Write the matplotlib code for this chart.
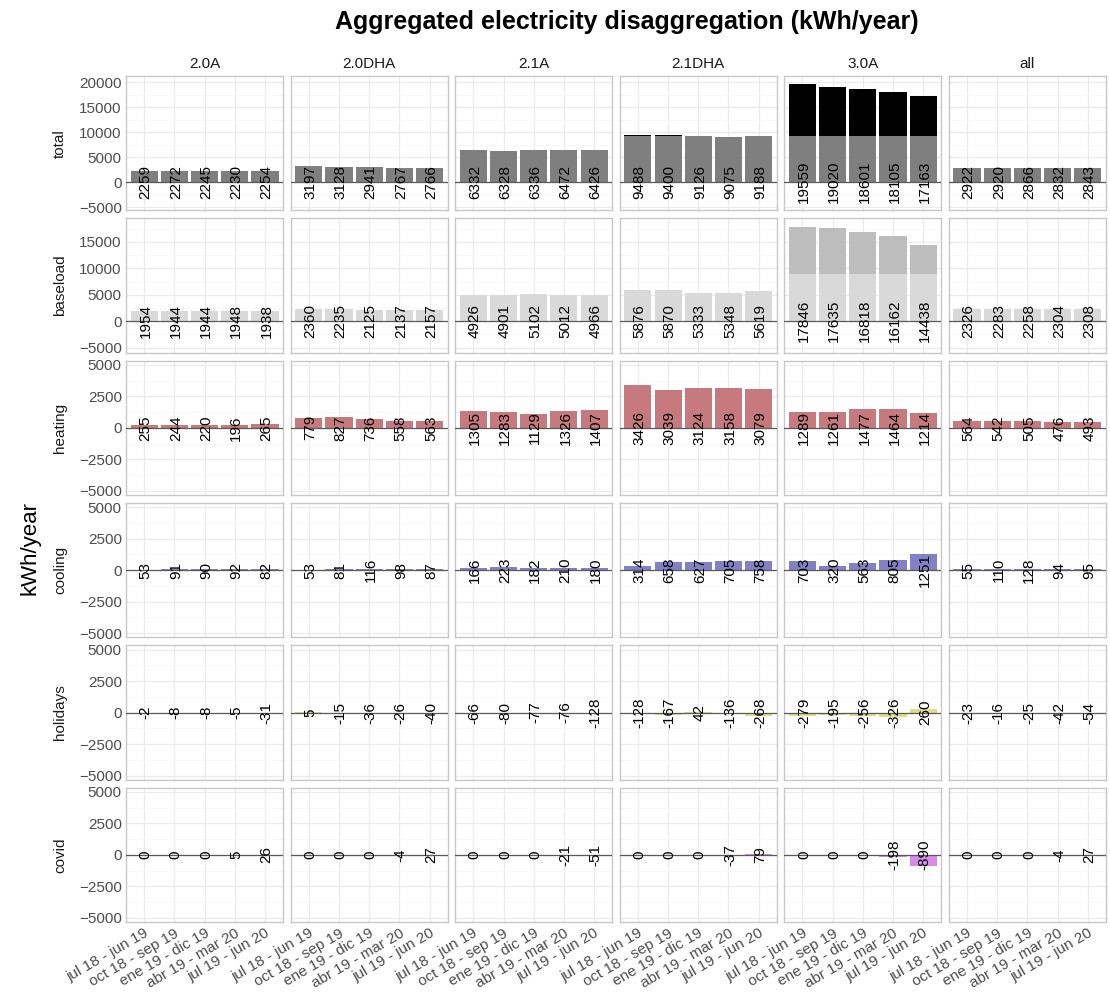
import matplotlib.pyplot as plt
from matplotlib.ticker import MultipleLocator
import numpy as np

plt.rcParams['font.family'] = ['Liberation Sans', 'DejaVu Sans']

tariffs = ['2.0A', '2.0DHA', '2.1A', '2.1DHA', '3.0A', 'all']
periods = ['jul 18 - jun 19', 'oct 18 - sep 19', 'ene 19 - dic 19',
           'abr 19 - mar 20', 'jul 19 - jun 20']
components = ['total', 'baseload', 'heating', 'cooling', 'holidays', 'covid']

# kWh/year per tariff (rows follow `tariffs`, columns follow `periods`)
total = [[2259, 2272, 2245, 2230, 2254],
         [3197, 3128, 2941, 2767, 2766],
         [6332, 6328, 6336, 6472, 6426],
         [9488, 9400, 9126, 9075, 9188],
         [19559, 19020, 18601, 18105, 17163],
         [2922, 2920, 2866, 2832, 2843]]
baseload = [[1954, 1944, 1944, 1948, 1938],
            [2360, 2235, 2125, 2137, 2157],
            [4926, 4901, 5102, 5012, 4966],
            [5876, 5870, 5333, 5348, 5619],
            [17846, 17635, 16818, 16162, 14438],
            [2326, 2283, 2258, 2304, 2308]]
heating = [[255, 244, 220, 196, 265],
           [779, 827, 736, 558, 563],
           [1305, 1283, 1129, 1326, 1407],
           [3426, 3039, 3124, 3158, 3079],
           [1289, 1261, 1477, 1464, 1214],
           [564, 542, 505, 476, 493]]
cooling = [[53, 91, 90, 92, 82],
           [53, 81, 116, 98, 87],
           [166, 223, 182, 210, 180],
           [314, 658, 627, 705, 758],
           [703, 320, 563, 805, 1251],
           [55, 110, 128, 94, 95]]
holidays = [[-2, -8, -8, -5, -31],
            [5, -15, -36, -26, -40],
            [-66, -80, -77, -76, -128],
            [-128, -167, 42, -136, -268],
            [-279, -195, -256, -326, 260],
            [-23, -16, -25, -42, -54]]
covid = [[0, 0, 0, 5, 26],
         [0, 0, 0, -4, 27],
         [0, 0, 0, -21, -51],
         [0, 0, 0, -37, 79],
         [0, 0, 0, -198, -890],
         [0, 0, 0, -4, 27]]

# consumption above these levels is drawn in a darker shade
total_cap = 9300
baseload_cap = 8850

data = {'total': total, 'baseload': baseload, 'heating': heating,
        'cooling': cooling, 'holidays': holidays, 'covid': covid}
caps = {'total': total_cap, 'baseload': baseload_cap}
fill = {'total': '#7f7f7f', 'baseload': '#d9d9d9', 'heating': '#c77a7e',
        'cooling': '#8380c6', 'holidays': '#dede82', 'covid': '#d88ae8'}
fill_over = {'total': '#000000', 'baseload': '#bdbdbd'}
ylims = {'total': (-5600, 21200), 'baseload': (-5950, 19450)}
small_lim = (-5330, 5330)

W, H = 1110, 1001
fig, axes = plt.subplots(6, 6, figsize=(W / 100, H / 100), dpi=100,
                         sharex=True, sharey='row')
fig.subplots_adjust(left=126 / W, right=1106 / W, top=1 - 76 / H,
                    bottom=1 - 922 / H, wspace=0.048, hspace=0.06)

x = np.arange(len(periods))
for r, comp in enumerate(components):
    for c, tariff in enumerate(tariffs):
        ax = axes[r, c]
        vals = np.array(data[comp][c])
        if comp in caps:
            ax.bar(x, vals, width=0.9, color=fill_over[comp], zorder=2)
            ax.bar(x, np.minimum(vals, caps[comp]), width=0.9,
                   color=fill[comp], zorder=2)
        else:
            ax.bar(x, vals, width=0.9, color=fill[comp], zorder=2)
        ax.axhline(0, color='#5a5a5a', lw=0.9, zorder=3)
        for xi, v in zip(x, vals):
            ax.text(xi + 0.05, 0, str(v), rotation=90, ha='center',
                    va='center', fontsize=11, color='black', zorder=4)

        ax.set_xlim(-0.6, 4.6)
        ax.set_ylim(*ylims.get(comp, small_lim))
        if comp in ('total', 'baseload'):
            ax.yaxis.set_major_locator(MultipleLocator(5000))
            ax.yaxis.set_minor_locator(MultipleLocator(2500))
        else:
            ax.yaxis.set_major_locator(MultipleLocator(2500))
            ax.yaxis.set_minor_locator(MultipleLocator(1250))
        ax.set_xticks(x)
        ax.set_xticklabels(periods)
        ax.grid(which='major', color='#ebebeb', lw=0.9, zorder=0)
        ax.grid(which='minor', axis='y', color='#f5f5f5', lw=0.5, zorder=0)
        ax.set_axisbelow(True)
        ax.tick_params(which='both', length=0, labelsize=11,
                       labelcolor='#4d4d4d', pad=3)
        for s in ax.spines.values():
            s.set_color('#c8c8c8')
            s.set_linewidth(1)
        if r == 0:
            ax.set_title(tariff, fontsize=11, color='#1a1a1a', pad=6)
        if r == len(components) - 1:
            for lab in ax.get_xticklabels():
                lab.set_rotation(30)
                lab.set_ha('right')
                lab.set_rotation_mode('anchor')

    # row strip label to the left of the tick labels
    pos = axes[r, 0].get_position()
    fig.text(60 / W, (pos.y0 + pos.y1) / 2, comp, rotation=90,
             ha='center', va='center', fontsize=11, color='#1a1a1a')

fig.text(30 / W, 1 - 548 / H, 'kWh/year', rotation=90, ha='center',
         va='center', fontsize=16)
fig.text(627 / W, 1 - 22 / H, 'Aggregated electricity disaggregation (kWh/year)',
         ha='center', va='center', fontsize=18, fontweight='bold')

fig.savefig('out.png', dpi=100)
